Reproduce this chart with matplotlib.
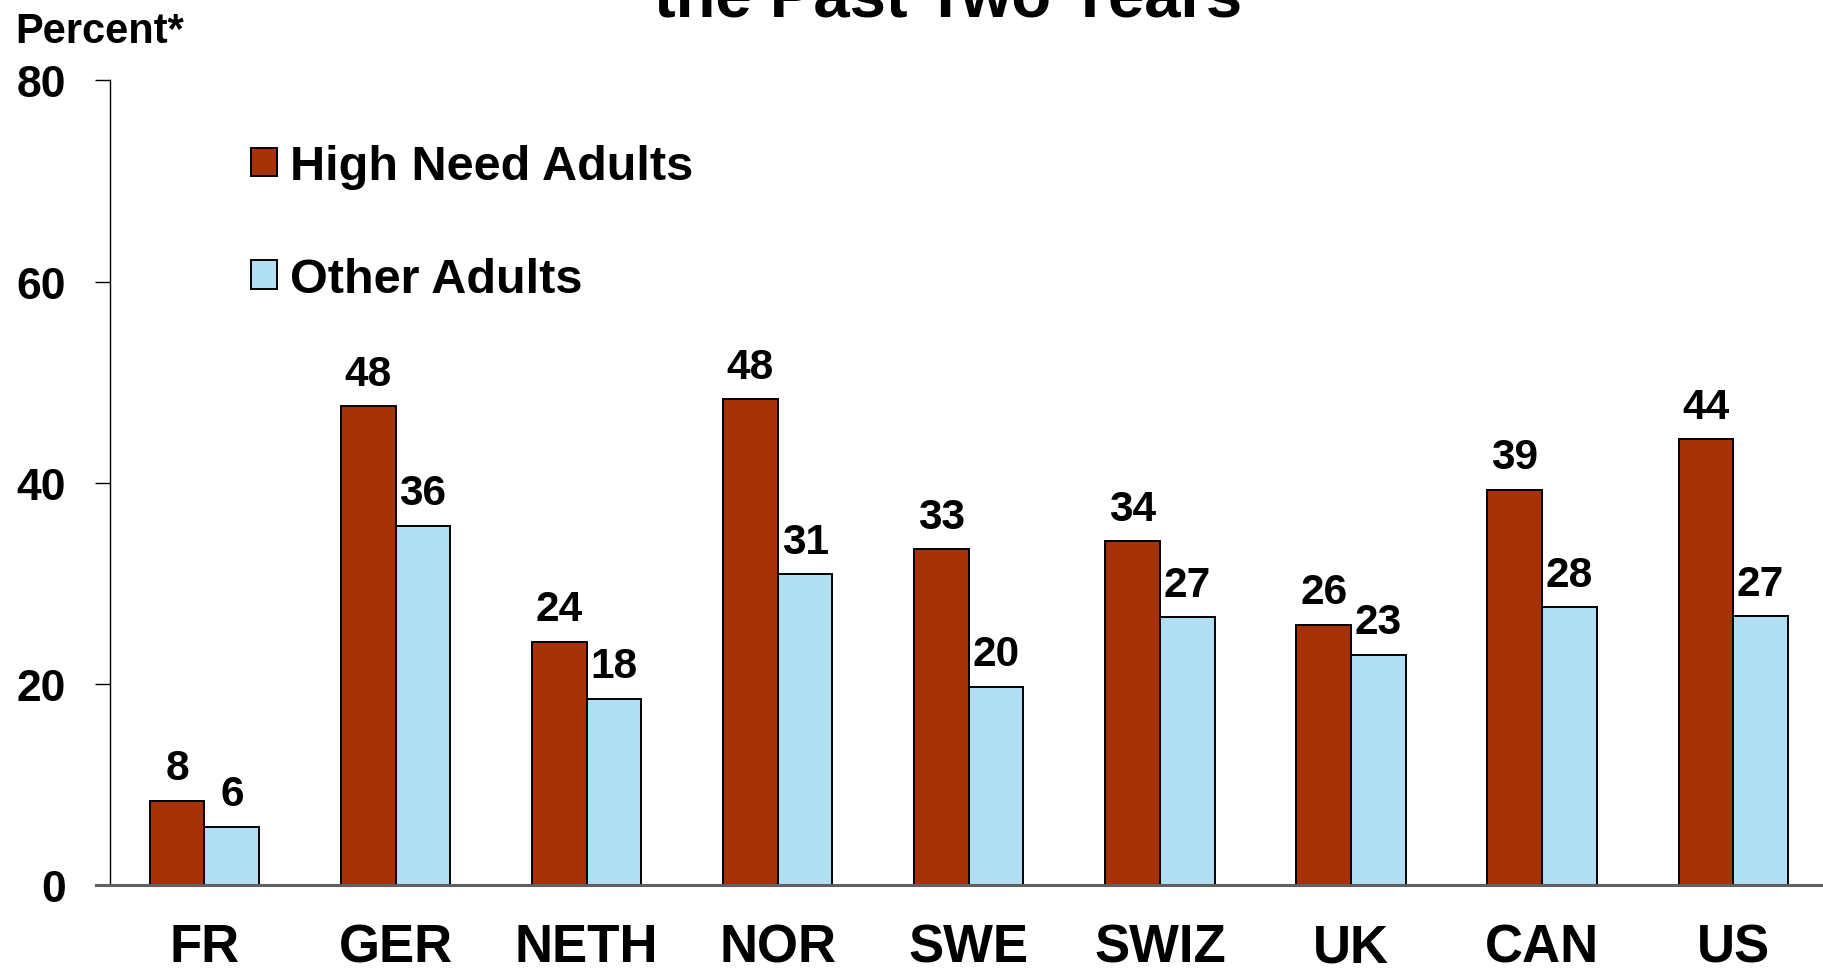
import numpy as np
import matplotlib
matplotlib.use("Agg")
import matplotlib.pyplot as plt

countries = ["FR", "GER", "NETH", "NOR", "SWE", "SWIZ", "UK", "CAN", "US"]
high_need = [8.4, 47.6, 24.2, 48.3, 33.4, 34.2, 25.9, 39.3, 44.3]
other = [5.8, 35.7, 18.5, 30.9, 19.7, 26.6, 22.9, 27.6, 26.7]
yticks = [0, 20, 40, 60, 80]

RED = "#A83208"
BLUE = "#B0DFF4"

plt.rcParams["font.family"] = ["Liberation Sans", "DejaVu Sans"]
plt.rcParams["font.weight"] = "bold"

fig = plt.figure(figsize=(18.23, 9.70), dpi=100)
ax = fig.add_axes([0.0605, 0.0866, 0.9395, 0.8294])

x = np.arange(len(countries))
w = 0.286
b1 = ax.bar(x - w / 2, high_need, w, color=RED, edgecolor="black", linewidth=1.4,
            label="High Need Adults")
b2 = ax.bar(x + w / 2, other, w, color=BLUE, edgecolor="black", linewidth=1.4,
            label="Other Adults")
for bars in (b1, b2):
    ax.bar_label(bars, fmt="%.0f", padding=9, fontsize=30.5, fontweight="bold")

ax.set_xlim(-0.493, 8.47)
ax.set_ylim(0, 80)
ax.set_yticks(yticks)
ax.set_yticklabels([str(t) for t in yticks], fontsize=32, fontweight="bold")
ax.set_xticks(x)
ax.set_xticklabels(countries, fontsize=38, fontweight="bold")
ax.tick_params(axis="x", length=0, pad=27)
ax.tick_params(axis="y", direction="out", length=11, width=1, pad=21)

for side in ("top", "right"):
    ax.spines[side].set_visible(False)
ax.spines["left"].set_linewidth(1)
ax.spines["bottom"].set_color("#606060")
ax.spines["bottom"].set_linewidth(2.2)
ax.spines["bottom"].set_bounds(-0.57, 8.47)
ax.spines["bottom"].set_zorder(5)

leg = ax.legend(loc="upper left", bbox_to_anchor=(0.071, 0.945), frameon=False,
                fontsize=35, handlelength=0.53, handleheight=0.53, handletextpad=0.26,
                labelspacing=1.39, borderaxespad=0)
for t in leg.get_texts():
    t.set_fontweight("bold")

fig.text(0.0082, 0.956, "Percent*", fontsize=30, fontweight="bold", va="baseline")
fig.text(0.52, 0.9825, "the Past Two Years", fontsize=47, fontweight="bold",
         ha="center", va="baseline")

fig.savefig("out.png", dpi=100)
plt.close(fig)
